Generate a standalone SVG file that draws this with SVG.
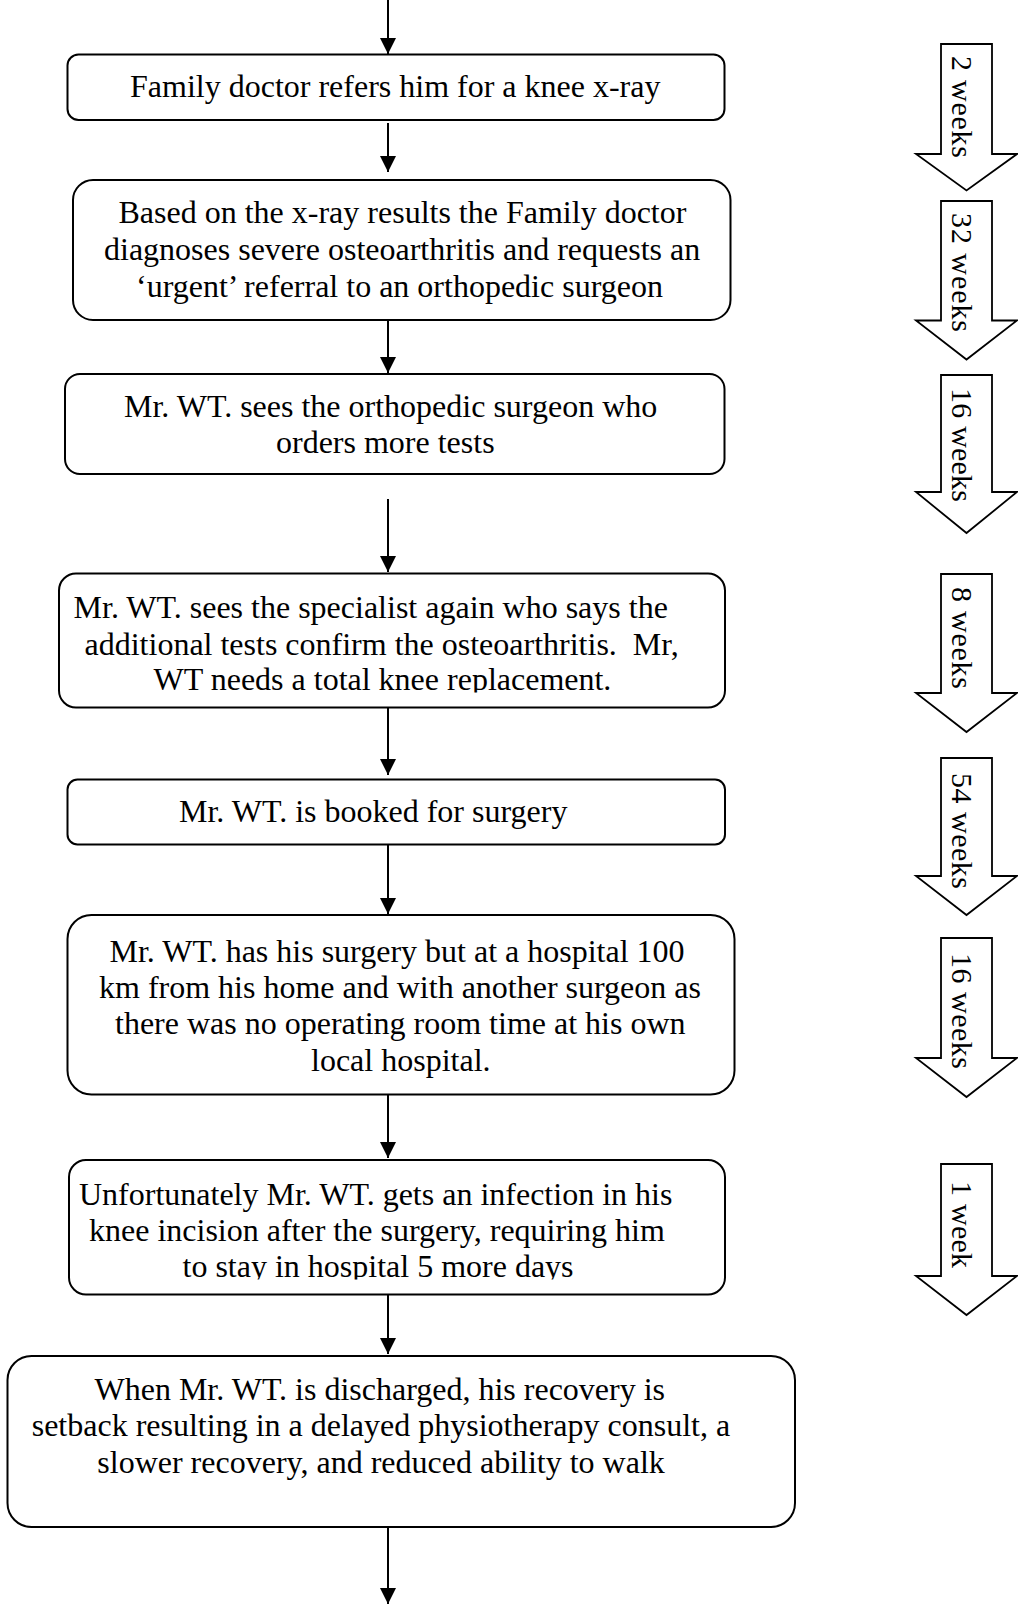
<svg xmlns="http://www.w3.org/2000/svg" width="1018" height="1606" viewBox="0 0 1018 1606">
<style>
.box{fill:#fff;stroke:#000;stroke-width:2}
.t{font-family:"Liberation Serif","Times New Roman",serif;font-size:32px;fill:#000;white-space:pre}
.w{font-family:"Liberation Serif","Times New Roman",serif;font-size:30px;fill:#000}
.conn{stroke:#000;stroke-width:2;fill:none}
.blk{fill:#fff;stroke:#000;stroke-width:1.8;stroke-linejoin:miter}
</style>
<defs>
<marker id="ah" markerUnits="userSpaceOnUse" markerWidth="16" markerHeight="16" refX="16" refY="8" orient="auto">
<path d="M0,0 L16,8 L0,16 Z" fill="#000"/>
</marker>
<clipPath id="clip4"><rect x="0" y="560" width="800" height="132.5"/></clipPath>
<clipPath id="clip7"><rect x="0" y="1150" width="800" height="129.5"/></clipPath>
</defs>
<rect width="1018" height="1606" fill="#fff"/>

<g id="connectors">
<line class="conn" x1="388" y1="0" x2="388" y2="54" marker-end="url(#ah)"/>
<line class="conn" x1="388" y1="123" x2="388" y2="172" marker-end="url(#ah)"/>
<line class="conn" x1="388" y1="320" x2="388" y2="373" marker-end="url(#ah)"/>
<line class="conn" x1="388" y1="499" x2="388" y2="572" marker-end="url(#ah)"/>
<line class="conn" x1="388" y1="708" x2="388" y2="775" marker-end="url(#ah)"/>
<line class="conn" x1="388" y1="845" x2="388" y2="914" marker-end="url(#ah)"/>
<line class="conn" x1="388" y1="1095" x2="388" y2="1158" marker-end="url(#ah)"/>
<line class="conn" x1="388" y1="1295" x2="388" y2="1354" marker-end="url(#ah)"/>
<line class="conn" x1="388" y1="1527" x2="388" y2="1604" marker-end="url(#ah)"/>
</g>

<g id="node1">
<rect class="box" x="67.5" y="54.5" width="657" height="65.5" rx="11"/>
<text class="t" x="130" y="97">Family doctor refers him for a knee x-ray</text>
</g>
<g id="node2">
<rect class="box" x="73" y="180" width="657.5" height="140" rx="20"/>
<text class="t" x="118.5" y="223">Based on the x-ray results the Family doctor</text>
<text class="t" x="104" y="260">diagnoses severe osteoarthritis and requests an</text>
<text class="t" x="136" y="296.5">‘urgent’ referral to an orthopedic surgeon</text>
</g>
<g id="node3">
<rect class="box" x="65" y="374" width="659.5" height="100" rx="15"/>
<text class="t" x="124" y="417">Mr. WT. sees the orthopedic surgeon who</text>
<text class="t" x="276" y="453">orders more tests</text>
</g>
<g id="node4">
<rect class="box" x="59" y="573.5" width="666" height="134" rx="17"/>
<g clip-path="url(#clip4)">
<text class="t" x="73.6" y="618">Mr. WT. sees the specialist again who says the</text>
<text class="t" x="84.5" y="655">additional tests confirm the osteoarthritis.  Mr,</text>
<text class="t" x="153.5" y="690">WT needs a total knee replacement.</text>
</g>
</g>
<g id="node5">
<rect class="box" x="67.5" y="779.5" width="657.5" height="65" rx="10"/>
<text class="t" x="179" y="821.5">Mr. WT. is booked for surgery</text>
</g>
<g id="node6">
<rect class="box" x="67.5" y="915" width="667" height="179.5" rx="24"/>
<text class="t" x="109.5" y="961.5">Mr. WT. has his surgery but at a hospital 100</text>
<text class="t" x="99" y="997.5">km from his home and with another surgeon as</text>
<text class="t" x="115" y="1034">there was no operating room time at his own</text>
<text class="t" x="311" y="1070.5">local hospital.</text>
</g>
<g id="node7">
<rect class="box" x="69" y="1160" width="656" height="134.5" rx="17"/>
<g clip-path="url(#clip7)">
<text class="t" x="79" y="1205">Unfortunately Mr. WT. gets an infection in his</text>
<text class="t" x="89" y="1241">knee incision after the surgery, requiring him</text>
<text class="t" x="182.5" y="1277">to stay in hospital 5 more days</text>
</g>
</g>
<g id="node8">
<rect class="box" x="7.5" y="1356" width="787.5" height="171" rx="24"/>
<text class="t" x="94.5" y="1399.5">When Mr. WT. is discharged, his recovery is</text>
<text class="t" x="31.7" y="1436">setback resulting in a delayed physiotherapy consult, a</text>
<text class="t" x="97.3" y="1472.5">slower recovery, and reduced ability to walk</text>
</g>

<g id="timeline1">
<polygon class="blk" points="941,44 992,44 992,154 1017,154 966.5,190.5 916,154 941,154"/>
<text class="w" transform="translate(952,56) rotate(90)" textLength="102" lengthAdjust="spacing">2 weeks</text>
</g>
<g id="timeline2">
<polygon class="blk" points="941,201 992,201 992,320.5 1017,320.5 966.5,359.5 916,320.5 941,320.5"/>
<text class="w" transform="translate(952,213) rotate(90)" textLength="119" lengthAdjust="spacing">32 weeks</text>
</g>
<g id="timeline3">
<polygon class="blk" points="941,375 992,375 992,492 1017,492 966.5,533 916,492 941,492"/>
<text class="w" transform="translate(952,388) rotate(90)" textLength="114" lengthAdjust="spacing">16 weeks</text>
</g>
<g id="timeline4">
<polygon class="blk" points="941,574 992,574 992,693 1017,693 966.5,732 916,693 941,693"/>
<text class="w" transform="translate(952,587) rotate(90)" textLength="102" lengthAdjust="spacing">8 weeks</text>
</g>
<g id="timeline5">
<polygon class="blk" points="941,758 992,758 992,876 1017,876 966.5,915 916,876 941,876"/>
<text class="w" transform="translate(952,773) rotate(90)" textLength="116" lengthAdjust="spacing">54 weeks</text>
</g>
<g id="timeline6">
<polygon class="blk" points="941,938 992,938 992,1058 1017,1058 966.5,1097 916,1058 941,1058"/>
<text class="w" transform="translate(952,953) rotate(90)" textLength="116" lengthAdjust="spacing">16 weeks</text>
</g>
<g id="timeline7">
<polygon class="blk" points="941,1164 992,1164 992,1276 1017,1276 966.5,1315 916,1276 941,1276"/>
<text class="w" transform="translate(952,1181) rotate(90)" textLength="87" lengthAdjust="spacing">1 week</text>
</g>
</svg>
